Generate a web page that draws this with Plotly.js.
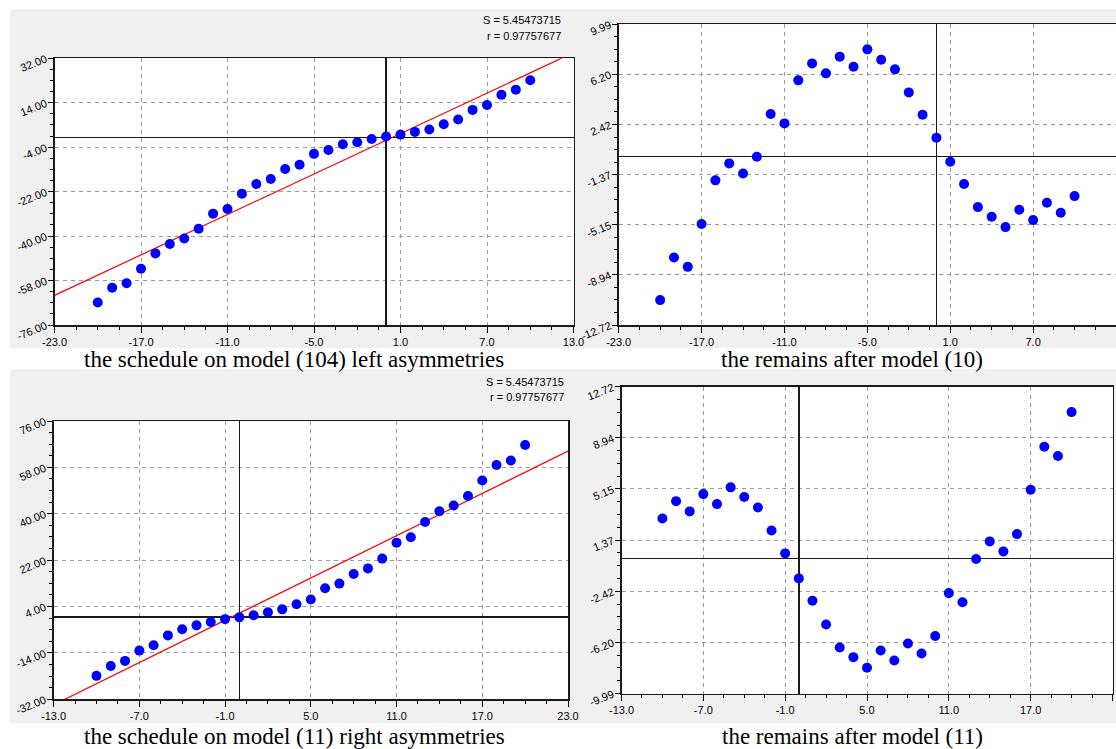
<!DOCTYPE html>
<html>
<head>
<meta charset="utf-8">
<script src="https://cdn.plot.ly/plotly-3.0.1.min.js"></script>
<style>html,body{margin:0;padding:0;background:#fff;}#chart{width:1116px;height:749px;}</style>
</head>
<body>
<div id="chart"></div>
<script>
// ---- data ----
const xLeft = [-20,-19,-18,-17,-16,-15,-14,-13,-12,-11,-10,-9,-8,-7,-6,-5,-4,-3,-2,-1,0,1,2,3,4,5,6,7,8,9,10];
const yLeftSchedule = [-66.9,-60.9,-59.1,-53.2,-47.0,-43.2,-41.0,-37.0,-30.9,-29.0,-22.8,-18.9,-16.9,-12.8,-11.1,-6.7,-5.1,-2.8,-2.0,-0.7,0.3,1.1,2.2,3.2,5.3,7.2,11.1,13.1,17.2,19.3,23.1];
const yLeftRemains = [-10.84,-7.62,-8.33,-5.10,-1.80,-0.52,-1.28,-0.02,3.21,2.50,5.75,7.03,6.28,7.54,6.78,8.09,7.31,6.58,4.84,3.16,1.42,-0.39,-2.08,-3.82,-4.55,-5.33,-4.02,-4.80,-3.49,-4.25,-2.99];

const xRight = [-10,-9,-8,-7,-6,-5,-4,-3,-2,-1,0,1,2,3,4,5,6,7,8,9,10,11,12,13,14,15,16,17,18,19,20];
const yRightSchedule = [-22.9,-19.1,-17.1,-13.1,-11.0,-7.2,-4.8,-3.3,-2.0,-0.9,-0.2,0.6,1.8,2.9,4.9,6.7,11.1,12.9,16.6,18.8,22.6,28.8,30.9,36.8,41.0,43.2,46.9,52.9,58.9,60.7,66.7];
const yRightRemains = [2.97,4.25,3.49,4.77,4.03,5.27,4.55,3.78,2.08,0.38,-1.47,-3.13,-4.88,-6.58,-7.30,-8.09,-6.81,-7.55,-6.29,-7.03,-5.74,-2.56,-3.23,-0.04,1.27,0.53,1.81,5.09,8.28,7.59,10.84];

// fitted lines (slope, intercept)
const fitLeft = {slope: 2.73, intercept: -1.2};
const fitRight = {slope: 2.735, intercept: 1.4};

// tick labels
const xTicksLeft = [-23,-17,-11,-5,1,7,13];
const xTickTextLeft = ['-23.0','-17.0','-11.0','-5.0','1.0','7.0','13.0'];
const xTicksRight = [-13,-7,-1,5,11,17,23];
const xTickTextRight = ['-13.0','-7.0','-1.0','5.0','11.0','17.0','23.0'];
const yTicks1 = [-76,-58,-40,-22,-4,14,32];
const yTickText1 = ['-76.00','-58.00','-40.00','-22.00','-4.00','14.00','32.00'];
const yTicks2 = [-12.72,-8.935,-5.15,-1.365,2.42,6.205,9.99];
const yTickText2 = ['-12.72','-8.94','-5.15','-1.37','2.42','6.20','9.99'];
const yTicks3 = [-32,-14,4,22,40,58,76];
const yTickText3 = ['-32.00','-14.00','4.00','22.00','40.00','58.00','76.00'];
const yTicks4 = [-9.99,-6.205,-2.42,1.365,5.15,8.935,12.72];
const yTickText4 = ['-9.99','-6.20','-2.42','1.37','5.15','8.94','12.72'];

const titles = ['the schedule on model (104) left asymmetries','the remains after model (10)','the schedule on model (11) right asymmetries','the remains after model (11)'];
const statS = 'S = 5.45473715';
const statR = 'r = 0.97757677';

// ---- styling helpers ----
const W = 1116, H = 749;
const px = v => v / W;
const py = v => 1 - v / H;
const tickFont = {family: 'Liberation Sans Narrow, Arial Narrow, Liberation Sans, sans-serif', size: 11, color: '#000'};

function minorVals(ticks) {
  const out = [];
  for (let i = 0; i < ticks.length - 1; i++) {
    const step = (ticks[i+1] - ticks[i]) / 4;
    for (let k = 1; k < 4; k++) out.push(ticks[i] + k * step);
  }
  return out;
}

function xAxis(domain, ticks, text, anchor) {
  return {
    domain: domain, anchor: anchor, range: [ticks[0], ticks[ticks.length-1]],
    tickmode: 'array', tickvals: ticks, ticktext: text, tickfont: tickFont,
    ticks: 'outside', ticklen: 6, tickwidth: 1, tickcolor: '#000',
    minor: {tickmode: 'array', tickvals: minorVals(ticks), ticks: 'outside', ticklen: 3, tickcolor: '#000', showgrid: false},
    showgrid: true, gridcolor: '#9a9a9a', gridwidth: 1, griddash: '4px,4px',
    zeroline: true, zerolinecolor: '#1a1a1a', zerolinewidth: 1.5,
    showline: true, mirror: true, linecolor: '#1a1a1a', linewidth: 1.5,
    fixedrange: true
  };
}
function yAxis(domain, ticks, text, anchor) {
  const a = xAxis(domain, ticks, text, anchor);
  a.tickangle = -22;
  a.ticklen = 5;
  return a;
}

function pts(x, y, xa, ya) {
  return {x: x, y: y, xaxis: xa, yaxis: ya, type: 'scatter', mode: 'markers',
    marker: {color: '#0000ff', size: 10, line: {width: 0}}, hoverinfo: 'x+y', cliponaxis: true};
}
function fitLine(fit, range, xa, ya) {
  const xs = [range[0], range[1]];
  return {x: xs, y: xs.map(v => fit.slope * v + fit.intercept), xaxis: xa, yaxis: ya,
    type: 'scatter', mode: 'lines', line: {color: '#ff0000', width: 1.2}, hoverinfo: 'skip'};
}

const data = [
  fitLine(fitLeft, [-23, 13], 'x', 'y'),
  pts(xLeft, yLeftSchedule, 'x', 'y'),
  pts(xLeft, yLeftRemains, 'x2', 'y2'),
  fitLine(fitRight, [-13, 23], 'x3', 'y3'),
  pts(xRight, yRightSchedule, 'x3', 'y3'),
  pts(xRight, yRightRemains, 'x4', 'y4')
];

const whiteRect = (x0, x1, y0, y1) => ({type: 'rect', xref: 'paper', yref: 'paper', x0: px(x0), x1: px(x1), y0: py(y1), y1: py(y0),
  fillcolor: '#ffffff', line: {width: 0}, layer: 'below'});

const layout = {
  width: W, height: H, autosize: false,
  margin: {l: 0, r: 0, t: 0, b: 0, pad: 0},
  paper_bgcolor: '#f0f0f0', plot_bgcolor: '#ffffff',
  showlegend: false,
  xaxis: xAxis([px(54.5), px(573.5)], xTicksLeft, xTickTextLeft, 'y'),
  yaxis: yAxis([py(325), py(58.3)], yTicks1, yTickText1, 'x'),
  xaxis2: xAxis([px(618.7), 1], xTicksLeft, xTickTextLeft, 'y2'),
  yaxis2: yAxis([py(325), py(24.2)], yTicks2, yTickText2, 'x2'),
  xaxis3: xAxis([px(53.6), px(568)], xTicksRight, xTickTextRight, 'y3'),
  yaxis3: yAxis([py(699.3), py(421)], yTicks3, yTickText3, 'x3'),
  xaxis4: xAxis([px(621.5), px(1112.5)], xTicksRight, xTickTextRight, 'y4'),
  yaxis4: yAxis([py(693.5), py(386.7)], yTicks4, yTickText4, 'x4'),
  shapes: [
    whiteRect(0, W, 0, 9),
    whiteRect(0, 10, 0, H),
    whiteRect(0, W, 348, 369),
    whiteRect(0, W, 723, H)
  ],
  annotations: [
    {text: titles[0], x: px(294), y: py(359)},
    {text: titles[1], x: px(852), y: py(359)},
    {text: titles[2], x: px(294), y: py(736)},
    {text: titles[3], x: px(852), y: py(736)}
  ].map(a => Object.assign(a, {xref: 'paper', yref: 'paper', xanchor: 'center', yanchor: 'middle', showarrow: false,
    font: {family: 'Liberation Serif, Times New Roman, serif', size: 23, color: '#000'}})).concat([
    {text: statS, x: px(563), y: py(20.5)},
    {text: statR, x: px(563), y: py(35.5)},
    {text: statS, x: px(566), y: py(381.5)},
    {text: statR, x: px(566), y: py(397)}
  ].map(a => Object.assign(a, {xref: 'paper', yref: 'paper', xanchor: 'right', yanchor: 'middle', showarrow: false,
    font: {family: 'Liberation Sans Narrow, Arial Narrow, Liberation Sans, sans-serif', size: 11, color: '#000'}})))
};

Plotly.newPlot('chart', data, layout, {displayModeBar: false, staticPlot: true});
</script>
</body>
</html>
